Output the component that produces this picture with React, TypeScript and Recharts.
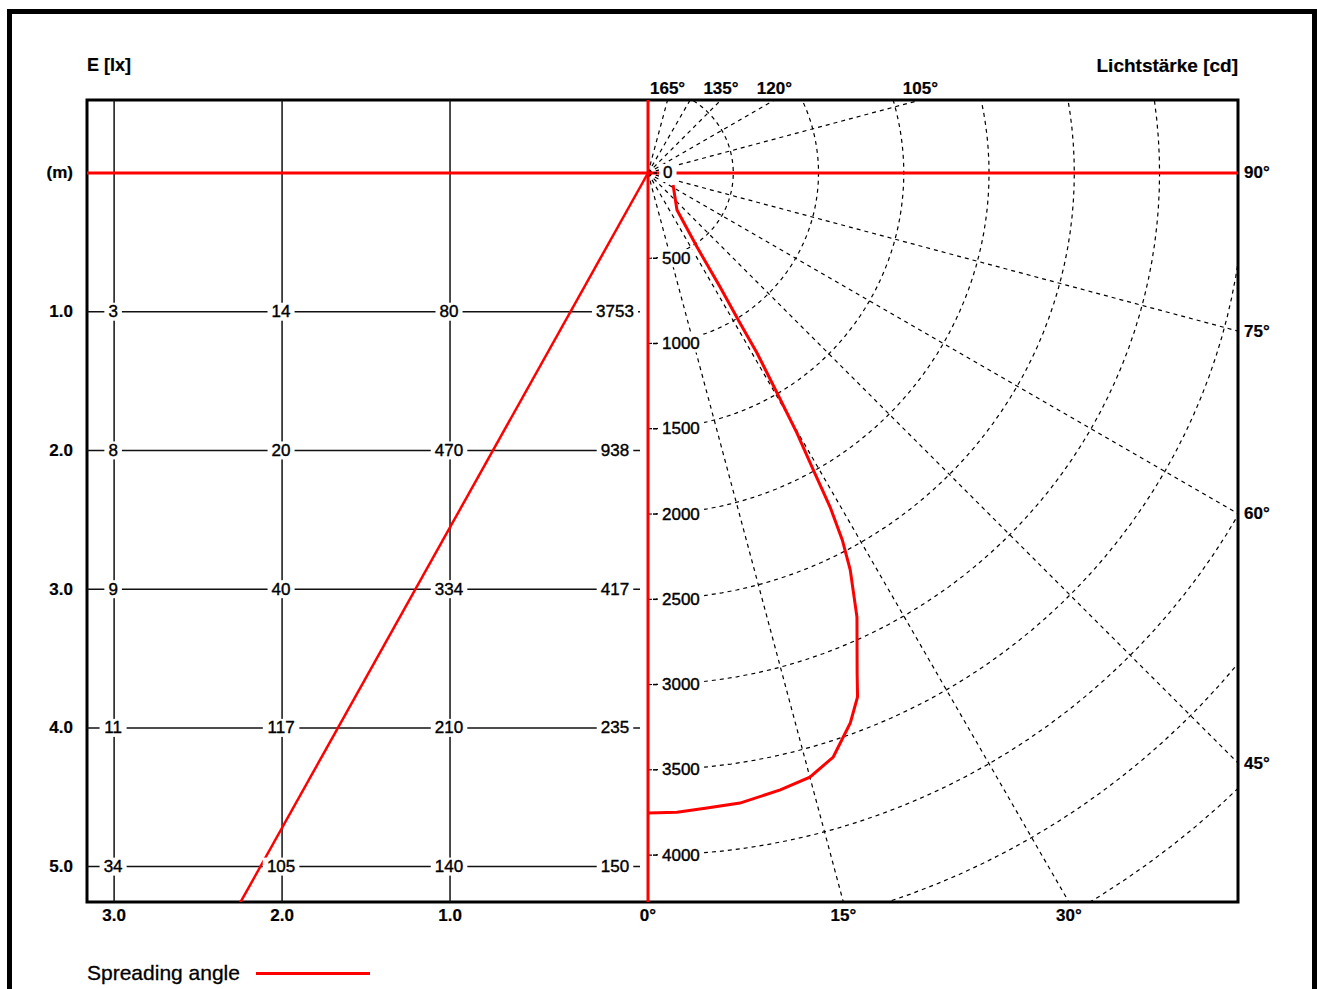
import React from "react";
import {
  ComposedChart,
  Line,
  XAxis,
  YAxis,
  ReferenceLine,
  ReferenceArea,
  ReferenceDot,
} from "recharts";

// chart units: lamp at 0,0, one unit = 1 cd on the polar side
const X_MIN = -3290;
const X_MAX = 3460;
const Y_MIN = -4275;
const Y_MAX = 428;

// left panel, metres turned into chart units
const UNITS_PER_M_DEPTH = 813.5;
const UNITS_PER_M_LATERAL = 985;
const LATERAL_ZERO = -176;
const ROW_END = -47;

const DEPTHS_M = [1, 2, 3, 4, 5];
const LATERALS_M = [3, 2, 1, 0];
const LATERAL_TICKS = [3, 2, 1];

// illuminance E [lx] per row, columns 3.0 / 2.0 / 1.0 / 0 m
const E_1M = [3, 14, 80, 3753];
const E_2M = [8, 20, 470, 938];
const E_3M = [9, 40, 334, 417];
const E_4M = [11, 117, 210, 235];
const E_5M = [34, 105, 140, 150];
const E_ROWS = [E_1M, E_2M, E_3M, E_4M, E_5M];

// luminous intensity curve
const ANGLES_DEG = [
  0, 2.6, 5.3, 8.3, 12.1, 15, 17.6, 20.2, 21.8, 22.7, 25.2, 27, 27.9, 28.6, 29.1,
  29.8, 30.4, 31.2, 31.5, 32.3, 33.5, 38, 64.4,
];
const INTENSITY_CD = [
  3753, 3752, 3740, 3734, 3700, 3668, 3593, 3436, 3309, 3178, 2878, 2612, 2435,
  2231, 1993, 1758, 1496, 1234, 1032, 791, 521, 276, 163,
];

const RING_CD = [500, 1000, 1500, 2000, 2500, 3000, 3500, 4000, 4500, 5000];
const RING_LABELS_CD = [0, 500, 1000, 1500, 2000, 2500, 3000, 3500, 4000];
const SPOKES_DEG = [15, 30, 45, 60, 75, 105, 120, 135, 150, 165];
const TOP_ANGLES = [165, 135, 120, 105];
const RIGHT_ANGLES = [90, 75, 60, 45];
const BOTTOM_ANGLES = [0, 15, 30];
const SPREAD_HALF_ANGLE = 29.2;

const FONT = "'Liberation Sans', Arial, sans-serif";
const RED = "#ff0000";

const rad = (d: number) => (d * Math.PI) / 180;
const polar = (deg: number, r: number) => ({
  x: r * Math.sin(rad(deg)),
  y: -r * Math.cos(rad(deg)),
});
const lateralX = (m: number) => LATERAL_ZERO - m * UNITS_PER_M_LATERAL;
const depthY = (m: number) => -m * UNITS_PER_M_DEPTH;

const ringData = (cd: number) => {
  const pts = [];
  for (let a = 0; a <= 180; a += 2) pts.push(polar(a, cd));
  return pts;
};

const curveData = ANGLES_DEG.map((a, i) => polar(a, INTENSITY_CD[i]));
const spreadData = [{ x: 0, y: 0 }, polar(-SPREAD_HALF_ANGLE, 8000)];

type TagProps = {
  cx: number;
  cy: number;
  text: string;
  anchor?: "start" | "middle" | "end";
  dx?: number;
  dy?: number;
  size?: number;
  bold?: boolean;
  bg?: boolean;
  tick?: boolean;
};

const Tag = ({
  cx,
  cy,
  text,
  anchor = "middle",
  dx = 0,
  dy = 0,
  size = 17,
  bold = false,
  bg = false,
  tick = false,
}: TagProps) => {
  const w = text.length * size * 0.56 + 8;
  const h = size + 1;
  const x = cx + dx;
  const y = cy + dy;
  const left = anchor === "middle" ? x - w / 2 : anchor === "end" ? x - w + 4 : x - 4;
  return (
    <g>
      {bg && <rect x={left} y={y - h / 2} width={w} height={h} fill="#fff" />}
      {tick && <line x1={cx + 5} x2={cx + 9} y1={cy} y2={cy} stroke="#000" strokeWidth={1.5} />}
      <text
        x={x}
        y={y}
        textAnchor={anchor}
        dominantBaseline="central"
        fontSize={size}
        fontWeight={bold ? 700 : 400}
        fontFamily={FONT}
        fill="#000"
        stroke="#000"
        strokeWidth={bold ? 0.2 : 0.4}
      >
        {text}
      </text>
    </g>
  );
};

const label = (key: string, x: number, y: number, opts: Omit<TagProps, "cx" | "cy">) => (
  <ReferenceDot
    key={key}
    x={x}
    y={y}
    r={0}
    ifOverflow="visible"
    zIndex={2000}
    shape={(p: any) => <Tag cx={p.cx} cy={p.cy} {...opts} />}
  />
);

const topHit = (deg: number) => (Y_MAX * Math.sin(rad(deg))) / -Math.cos(rad(deg));
const rightHit = (deg: number) => (-X_MAX * Math.cos(rad(deg))) / Math.sin(rad(deg));
const bottomHit = (deg: number) => (Y_MIN * Math.sin(rad(deg))) / -Math.cos(rad(deg));

const dashed = { stroke: "#000", strokeWidth: 1.2, strokeDasharray: "4 4" };

const LightChart = () => (
  <ComposedChart width={1317} height={989} margin={{ top: 100, left: 87, right: 79, bottom: 87 }}>
    <XAxis type="number" dataKey="x" domain={[X_MIN, X_MAX]} allowDataOverflow hide />
    <YAxis type="number" domain={[Y_MIN, Y_MAX]} allowDataOverflow hide />

    {/* polar grid */}
    {RING_CD.map((cd) => (
      <Line key={`ring-${cd}`} data={ringData(cd)} dataKey="y" {...dashed} dot={false} activeDot={false} isAnimationActive={false} />
    ))}
    {SPOKES_DEG.map((a) => (
      <Line key={`spoke-${a}`} data={[{ x: 0, y: 0 }, polar(a, 8000)]} dataKey="y" {...dashed} dot={false} activeDot={false} isAnimationActive={false} />
    ))}

    {/* left panel grid */}
    {DEPTHS_M.map((d) => (
      <Line key={`row-${d}`} data={[{ x: X_MIN, y: depthY(d) }, { x: ROW_END, y: depthY(d) }]} dataKey="y" stroke="#111" strokeWidth={1.5} dot={false} activeDot={false} isAnimationActive={false} />
    ))}
    {LATERAL_TICKS.map((m) => (
      <Line key={`col-${m}`} data={[{ x: lateralX(m), y: Y_MAX }, { x: lateralX(m), y: Y_MIN }]} dataKey="y" stroke="#111" strokeWidth={1.5} dot={false} activeDot={false} isAnimationActive={false} />
    ))}

    <ReferenceLine y={0} stroke={RED} strokeWidth={3} />
    <ReferenceLine x={0} stroke={RED} strokeWidth={3} />
    <Line data={spreadData} dataKey="y" stroke={RED} strokeWidth={2.5} dot={false} activeDot={false} isAnimationActive={false} />
    <Line data={curveData} dataKey="y" stroke={RED} strokeWidth={3} dot={false} activeDot={false} isAnimationActive={false} />

    <ReferenceArea x1={X_MIN} x2={X_MAX} y1={Y_MIN} y2={Y_MAX} fill="none" fillOpacity={0} stroke="#000" strokeWidth={3} />

    {/* values in the left panel */}
    {E_ROWS.flatMap((row, i) =>
      row.map((v, j) =>
        label(`e-${i}-${j}`, lateralX(LATERALS_M[j]), depthY(DEPTHS_M[i]), {
          text: String(v),
          bg: true,
          dx: LATERALS_M[j] === 0 ? -3 : -1,
        })
      )
    )}
    {/* ring values */}
    {RING_LABELS_CD.map((cd) =>
      label(`rl-${cd}`, 0, -cd, { text: String(cd), anchor: "start", dx: cd === 0 ? 15 : 14, bg: true, tick: true })
    )}

    {/* axis texts */}
    {label("m", X_MIN, 0, { text: "(m)", anchor: "end", dx: -14, bold: true })}
    {DEPTHS_M.map((d) => label(`d-${d}`, X_MIN, depthY(d), { text: d.toFixed(1), anchor: "end", dx: -14, bold: true }))}
    {LATERAL_TICKS.map((m) => label(`l-${m}`, lateralX(m), Y_MIN, { text: m.toFixed(1), dy: 13, bold: true }))}
    {BOTTOM_ANGLES.map((a) => label(`b-${a}`, bottomHit(a), Y_MIN, { text: `${a}°`, dy: 13, bold: true }))}
    {TOP_ANGLES.map((a) => label(`t-${a}`, topHit(a), Y_MAX, { text: `${a}°`, dy: -12, bold: true }))}
    {RIGHT_ANGLES.map((a) => label(`r-${a}`, X_MAX, rightHit(a), { text: `${a}°`, anchor: "start", dx: 6, bold: true }))}
    {label("e-title", X_MIN, Y_MAX, { text: "E [lx]", anchor: "start", dy: -35, bold: true, size: 18 })}
    {label("cd-title", X_MAX, Y_MAX, { text: "Lichtstärke [cd]", anchor: "end", dy: -35, bold: true, size: 19 })}
  </ComposedChart>
);

export default function App() {
  return (
    <div style={{ position: "absolute", left: 0, top: 0, width: 1317, height: 989, overflow: "hidden", background: "#fff" }}>
      <div
        style={{
          position: "absolute",
          left: 7,
          top: 9,
          width: 1310,
          height: 1100,
          border: "5px solid #000",
          boxSizing: "border-box",
        }}
      />
      <div style={{ position: "absolute", left: 0, top: 0 }}>
        <LightChart />
      </div>
      <div
        style={{
          position: "absolute",
          left: 87,
          top: 960,
          height: 26,
          display: "flex",
          alignItems: "center",
          fontFamily: FONT,
          fontSize: 21,
          color: "#000",
          WebkitTextStroke: "0.3px #000",
        }}
      >
        <span>Spreading angle</span>
        <span style={{ display: "inline-block", width: 114, height: 3, background: RED, marginLeft: 16 }} />
      </div>
    </div>
  );
}
